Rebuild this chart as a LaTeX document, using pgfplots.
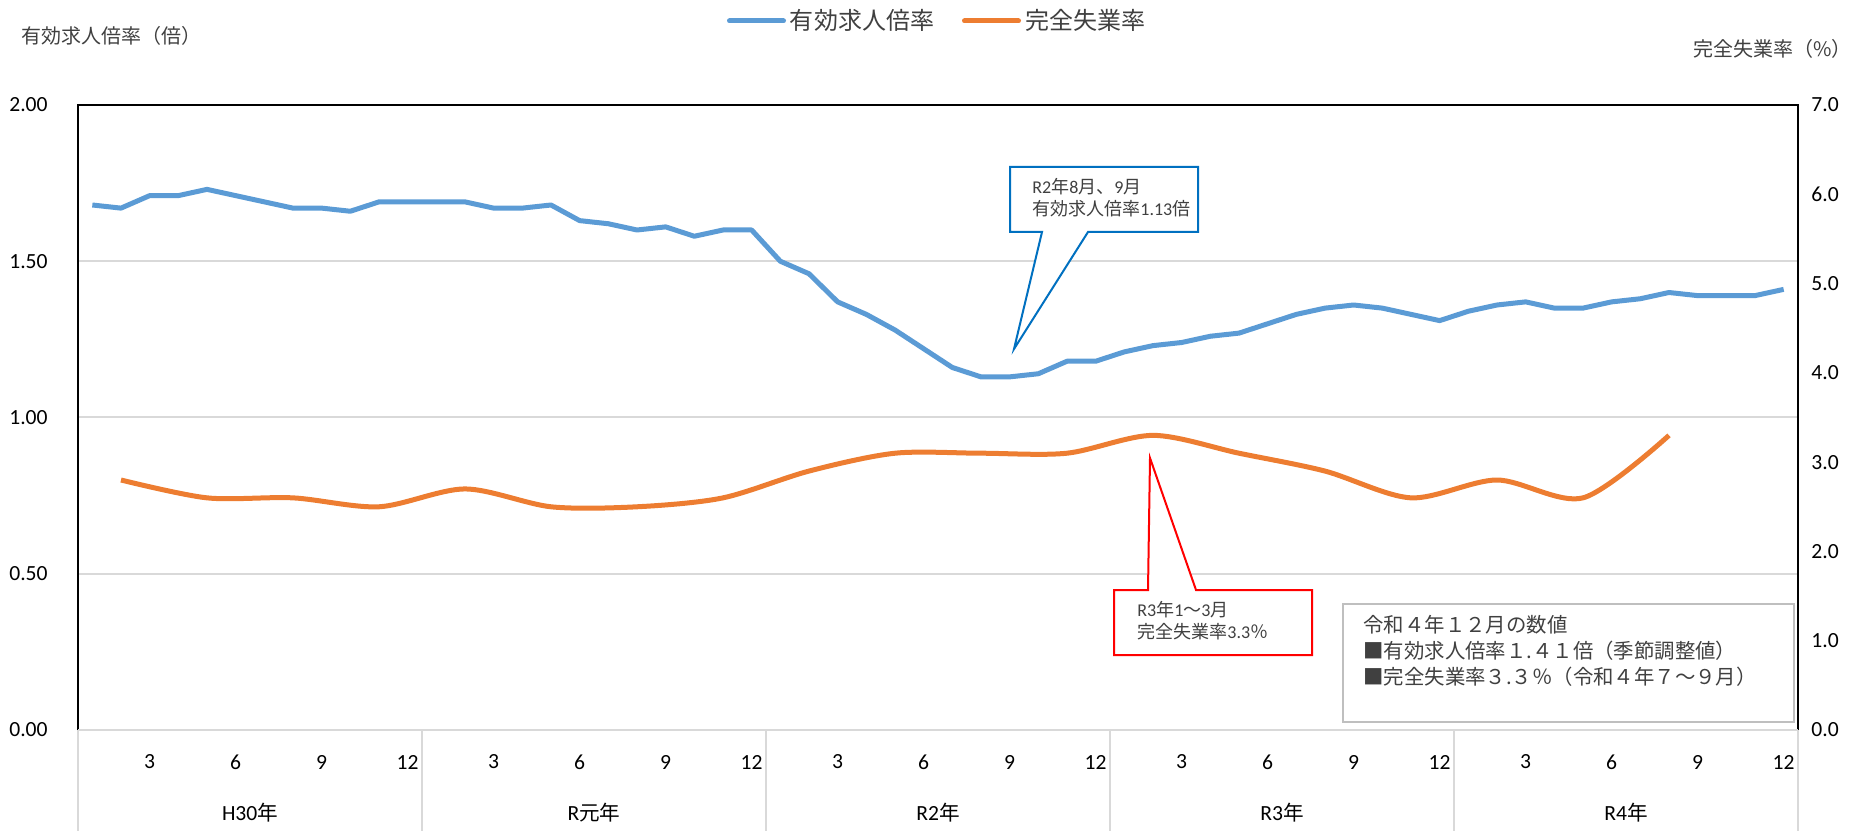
\documentclass[border=0pt]{standalone}
\usepackage{fontspec}
\setmainfont{Carlito}
\newfontfamily\jp{Noto Sans CJK JP}
\usepackage{pgfplots}
\pgfplotsset{compat=1.18}
\definecolor{cblue}{HTML}{5B9BD5}
\definecolor{corange}{HTML}{ED7D31}
\definecolor{gridc}{HTML}{D9D9D9}
\definecolor{callblue}{HTML}{0070C0}
\definecolor{callred}{HTML}{FF0000}
\definecolor{boxgray}{HTML}{BFBFBF}
\definecolor{txt}{HTML}{404040}
\pgfplotstableread{
x y
0 1.68
1 1.67
2 1.71
3 1.71
4 1.73
5 1.71
6 1.69
7 1.67
8 1.67
9 1.66
10 1.69
11 1.69
12 1.69
13 1.69
14 1.67
15 1.67
16 1.68
17 1.63
18 1.62
19 1.60
20 1.61
21 1.58
22 1.60
23 1.60
24 1.50
25 1.46
26 1.37
27 1.33
28 1.28
29 1.22
30 1.16
31 1.13
32 1.13
33 1.14
34 1.18
35 1.18
36 1.21
37 1.23
38 1.24
39 1.26
40 1.27
41 1.30
42 1.33
43 1.35
44 1.36
45 1.35
46 1.33
47 1.31
48 1.34
49 1.36
50 1.37
51 1.35
52 1.35
53 1.37
54 1.38
55 1.40
56 1.39
57 1.39
58 1.39
59 1.41
}\jobtable
\pgfplotstableread{
x y
1 2.8
4 2.6
7 2.6
10 2.5
13 2.7
16 2.5
19 2.5
22 2.6
25 2.9
28 3.1
31 3.1
34 3.1
37 3.3
40 3.1
43 2.9
46 2.6
49 2.8
52 2.6
55 3.3
}\unemptable
\begin{document}
\begin{tikzpicture}
\begin{axis}[
  at={(39pt,50.5pt)}, anchor=south west,
  width=860pt, height=312.5pt, scale only axis,
  xmin=-0.5, xmax=59.5, ymin=0, ymax=2,
  axis line style={draw=none},
  major tick length=0pt,
  xtick={2,5,...,59},
  xticklabels={3,6,9,12,3,6,9,12,3,6,9,12,3,6,9,12,3,6,9,12},
  xticklabel style={anchor=center, inner sep=0pt, yshift=-16pt, font=\fontsize{10.8}{12}\selectfont, text=black},
  ytick={0,0.5,1,1.5,2},
  yticklabel style={/pgf/number format/fixed, /pgf/number format/fixed zerofill, /pgf/number format/precision=2, anchor=east, inner sep=0pt, xshift=-15pt, font=\fontsize{10.8}{12}\selectfont, text=black},
  /pgf/number format/assume math mode=true,
  ymajorgrids, grid style={gridc, line width=1pt},
  clip=false,
  legend columns=2,
  legend style={at={(0.5,1.1344)}, anchor=center, draw=none, fill=none,
    font=\jp\fontsize{12}{14}\selectfont, text=txt,
    /tikz/every even column/.append style={column sep=12pt}},
  legend image code/.code={\draw[#1, line cap=round] (0pt,0pt) -- (27pt,0pt);},
]
\addplot[cblue, line width=2.5pt, line join=round] table[x=x, y=y] {\jobtable};
\addlegendentry{有効求人倍率}
\addlegendimage{corange, line width=2.5pt}
\addlegendentry{完全失業率}
\draw[black, line width=1pt] (rel axis cs:0,0) -- (rel axis cs:0,1) -- (rel axis cs:1,1) -- (rel axis cs:1,0);
\draw[gridc, line width=1pt] (rel axis cs:0,0) -- (rel axis cs:1,0);
\pgfplotsinvokeforeach{-0.5,11.5,23.5,35.5,47.5,59.5}{\draw[gridc, line width=1pt] (axis cs:#1,0) -- (axis cs:#1,-0.3232);}
\node[font=\fontsize{10.8}{12}\selectfont, text=black] at (axis cs:5.5,-0.2656) {H30{\jp\fontsize{10.3}{12}\selectfont 年}};
\node[font=\fontsize{10.8}{12}\selectfont, text=black] at (axis cs:17.5,-0.2656) {R{\jp\fontsize{10.3}{12}\selectfont 元年}};
\node[font=\fontsize{10.8}{12}\selectfont, text=black] at (axis cs:29.5,-0.2656) {R2{\jp\fontsize{10.3}{12}\selectfont 年}};
\node[font=\fontsize{10.8}{12}\selectfont, text=black] at (axis cs:41.5,-0.2656) {R3{\jp\fontsize{10.3}{12}\selectfont 年}};
\node[font=\fontsize{10.8}{12}\selectfont, text=black] at (axis cs:53.5,-0.2656) {R4{\jp\fontsize{10.3}{12}\selectfont 年}};
\end{axis}
\begin{axis}[
  at={(39pt,50.5pt)}, anchor=south west,
  width=860pt, height=312.5pt, scale only axis,
  xmin=-0.5, xmax=59.5, ymin=0, ymax=7,
  axis line style={draw=none},
  hide x axis,
  axis y line*=right,
  major tick length=0pt,
  ytick={0,1,...,7},
  yticklabel style={/pgf/number format/fixed, /pgf/number format/fixed zerofill, /pgf/number format/precision=1, anchor=west, inner sep=0pt, xshift=6.5pt, font=\fontsize{10.8}{12}\selectfont, text=black},
  /pgf/number format/assume math mode=true,
  clip=false,
]
\addplot[corange, line width=2.5pt, smooth, line join=round] table[x=x, y=y] {\unemptable};
\end{axis}
% axis titles
\node[anchor=west, inner sep=0pt, font=\jp\fontsize{10}{12}\selectfont, text=txt] at (10.5pt,397.5pt) {有効求人倍率（倍）};
\node[anchor=east, inner sep=0pt, font=\jp\fontsize{10}{12}\selectfont, text=txt] at (926pt,391pt) {完全失業率（\%）};
% blue callout
\filldraw[fill=white, draw=callblue, line width=1pt, line join=miter] (505pt,332pt) -- (599pt,332pt) -- (599pt,299.5pt) -- (544pt,299.5pt) -- (507pt,241pt) -- (521pt,299.5pt) -- (505pt,299.5pt) -- cycle;
\node[anchor=west, inner sep=0pt, align=left, font=\fontsize{9}{11}\selectfont, text=txt] at (516pt,316.5pt) {R2{\jp 年}8{\jp 月、}9{\jp 月}\\{\jp 有効求人倍率}1.13{\jp 倍}};
% red callout
\filldraw[fill=white, draw=callred, line width=1pt, line join=miter] (557pt,120.5pt) -- (574pt,120.5pt) -- (575pt,186.5pt) -- (598pt,120.5pt) -- (656pt,120.5pt) -- (656pt,88pt) -- (557pt,88pt) -- cycle;
\node[anchor=west, inner sep=0pt, align=left, font=\fontsize{9}{11}\selectfont, text=txt] at (568.5pt,105pt) {R3{\jp 年}1{\jp ～}3{\jp 月}\\{\jp 完全失業率}3.3{\jp ％}};
% info box
\filldraw[fill=white, draw=boxgray, line width=0.8pt] (671.5pt,113.5pt) rectangle (897pt,54.5pt);
\node[anchor=west, inner sep=0pt, align=left, font=\jp\fontsize{10.2}{13}\selectfont, text=txt] at (681.5pt,90pt) {令和４年１２月の数値\\■有効求人倍率１.４１倍（季節調整値）\\■完全失業率３.３％（令和４年７～９月）};
\pgfresetboundingbox
\useasboundingbox (0pt,0pt) rectangle (934pt,415.5pt);
\end{tikzpicture}
\end{document}
